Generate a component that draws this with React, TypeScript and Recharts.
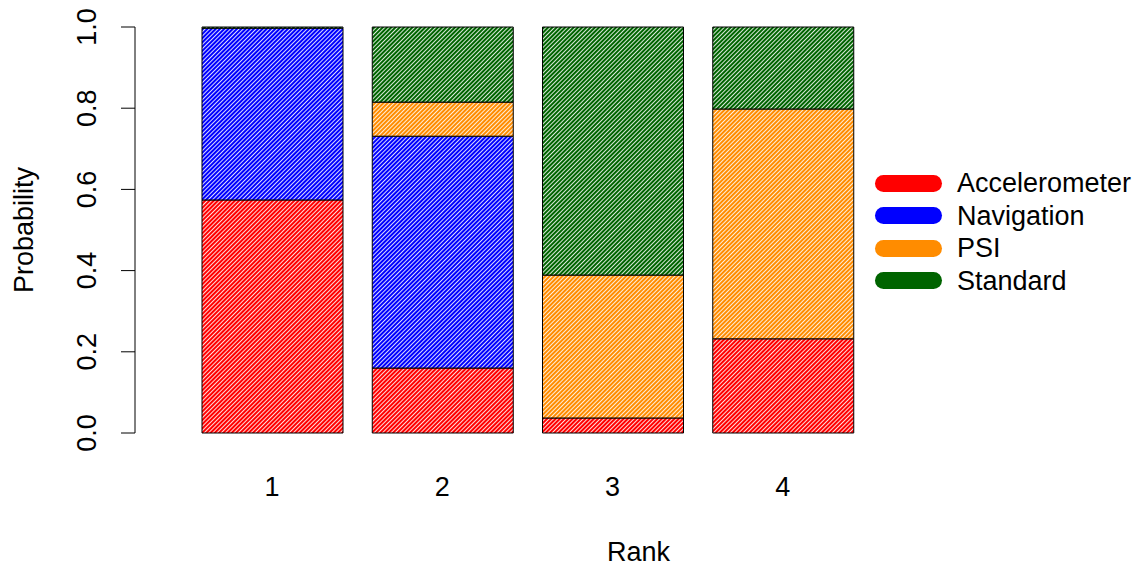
import { BarChart, Bar, XAxis, YAxis } from "recharts";

const ranks = ["1", "2", "3", "4"];
const accelerometer = [0.574, 0.16, 0.037, 0.232];
const navigation = [0.423, 0.571, 0, 0];
const psi = [0, 0.084, 0.352, 0.566];
const standard = [0.003, 0.185, 0.611, 0.202];
const yTicks = [0, 0.2, 0.4, 0.6, 0.8, 1.0];

const series = [
  { key: "Accelerometer", color: "#ff0000", values: accelerometer },
  { key: "Navigation", color: "#0000ff", values: navigation },
  { key: "PSI", color: "#ff8c00", values: psi },
  { key: "Standard", color: "#006400", values: standard },
];

const FONT = "'Liberation Sans', Arial, sans-serif";
const FS = 27;

const chartData = ranks.map((rank, i) => {
  const row: Record<string, number | string> = { rank };
  series.forEach((s) => (row[s.key] = s.values[i]));
  return row;
});

// y tick labels are rotated like R's default las=0
const YTick = (props: any) => {
  const { x, y, payload } = props;
  return (
    <text
      transform={`translate(${x - 32},${y}) rotate(-90)`}
      textAnchor="middle"
      dominantBaseline="central"
      fontSize={FS}
      fontFamily={FONT}
      fill="#000"
    >
      {Number(payload.value).toFixed(1)}
    </text>
  );
};

// x axis title sits right of the plot centre, as in the original
const RankLabel = (props: any) => {
  const { viewBox } = props;
  return (
    <text
      x={viewBox.x + viewBox.width / 2 + 137}
      y={viewBox.y + 119}
      textAnchor="middle"
      dominantBaseline="central"
      fontSize={FS}
      fontFamily={FONT}
      fill="#000"
    >
      Rank
    </text>
  );
};

const LegendBox = () => (
  <div
    style={{
      position: "absolute",
      left: 875,
      top: 167,
      fontFamily: FONT,
      fontSize: FS,
      color: "#000",
    }}
  >
    {series.map((s) => (
      <div key={s.key} style={{ display: "flex", alignItems: "center", height: 32.5 }}>
        <span
          style={{
            display: "inline-block",
            width: 67,
            height: 17,
            borderRadius: 8.5,
            background: s.color,
            marginRight: 15,
          }}
        />
        <span style={{ lineHeight: "32px" }}>{s.key}</span>
      </div>
    ))}
  </div>
);

export default function App() {
  return (
    <div style={{ position: "absolute", left: 0, top: 0, width: 1139, height: 574, background: "#fff" }}>
      <BarChart
        width={1139}
        height={574}
        data={chartData}
        margin={{ top: 27, right: 271, bottom: 0, left: 0 }}
        barSize={141}
      >
        <defs>
          {series.map((s) => (
            <pattern
              key={s.key}
              id={`hatch-${s.key}`}
              width={3}
              height={3}
              patternUnits="userSpaceOnUse"
              patternTransform="rotate(45)"
            >
              <rect width={3} height={3} fill={s.color} />
              <line x1={0.5} y1={0} x2={0.5} y2={3} stroke="#ffffff" strokeWidth={1} strokeOpacity={0.85} />
            </pattern>
          ))}
        </defs>
        <XAxis
          dataKey="rank"
          axisLine={false}
          tickLine={false}
          height={141}
          tickMargin={38}
          padding={{ left: 52, right: 0 }}
          tick={{ fontSize: FS, fontFamily: FONT, fill: "#000" }}
          label={<RankLabel />}
        />
        <YAxis
          domain={[0, 1]}
          ticks={yTicks}
          width={135}
          tickSize={14}
          axisLine={{ stroke: "#000" }}
          tickLine={{ stroke: "#000" }}
          tick={<YTick />}
          label={{
            value: "Probability",
            angle: -90,
            position: "insideLeft",
            offset: 23,
            style: { textAnchor: "middle", fontSize: FS, fontFamily: FONT, fill: "#000" },
          }}
        />
        {series.map((s) => (
          <Bar
            key={s.key}
            dataKey={s.key}
            stackId="a"
            fill={`url(#hatch-${s.key})`}
            stroke="#000"
            strokeWidth={1}
            isAnimationActive={false}
          />
        ))}
      </BarChart>
      <LegendBox />
    </div>
  );
}
